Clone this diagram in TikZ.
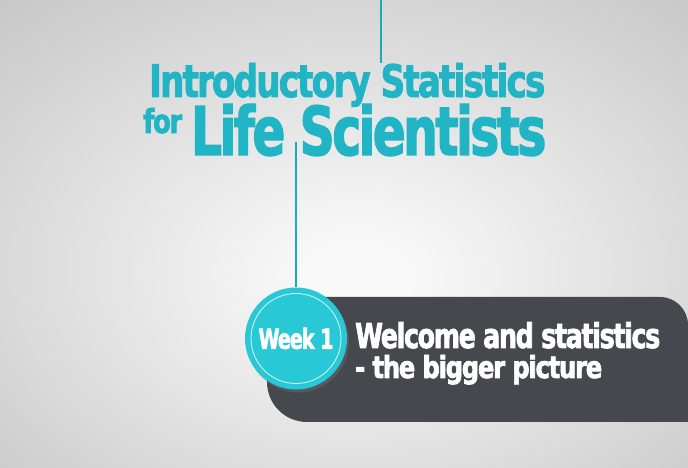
\documentclass[tikz,border=0pt]{standalone}
\usepackage{graphicx}
\usepackage{fontspec}
\newfontfamily\headfont{DejaVu Sans}[FakeStretch=0.8, FakeBold=2.2, LetterSpace=-4]
\usetikzlibrary{shadows}

\definecolor{bgcentre}{RGB}{248,248,248}
\definecolor{bgedge}{RGB}{196,196,196}
\definecolor{bgcorner}{RGB}{184,184,184}
\definecolor{titleteal}{RGB}{33,180,196}
\definecolor{stemteal}{RGB}{30,168,184}
\definecolor{discteal}{RGB}{40,200,215}
\definecolor{panelgray}{RGB}{69,73,78}

\pgfdeclareradialshading{backdrop}{\pgfpoint{1bp}{-5bp}}{%
  color(0bp)=(bgcentre); color(4bp)=(bgcentre);
  color(40bp)=(bgedge); color(75bp)=(bgcorner)}

\newcommand{\fitline}[3]{\resizebox{#1}{#2}{\headfont\bfseries #3}}

\begin{document}
\begin{tikzpicture}[x=1pt,y=1pt,
    titletext/.style={text=titleteal, inner sep=0pt},
    paneltext/.style={text=white, inner sep=0pt},
    stem/.style={draw=stemteal, line width=2pt},
    disc/.style={circle, fill=discteal, minimum size=102pt, inner sep=0pt,
      text=white, drop shadow={opacity=0.3, shadow xshift=2pt, shadow yshift=-3pt}},
    ring/.style={draw=white!85!discteal, line width=0.8pt}]
  \useasboundingbox (0,0) rectangle (688,468);
  \shade[shading=backdrop] (0,0) rectangle (688,468);

  % title
  \node[titletext, anchor=base west] (intro) at (149,371) {\fitline{396pt}{34pt}{Introductory Statistics}};
  \node[titletext, anchor=base west] (for) at (143,335) {\fitline{39pt}{25pt}{for}};
  \node[titletext, anchor=base west] (life) at (191,313) {\fitline{355pt}{51pt}{Life Scientists}};

  % dark panel
  \fill[panelgray] (307,46) -- (688,46) -- (688,143) arc[start angle=0, end angle=90, radius=28]
    -- (307,171) arc[start angle=90, end angle=180, radius=40]
    -- (267,86) arc[start angle=180, end angle=270, radius=40] -- cycle;

  \node[paneltext, anchor=base west] (welcome) at (355,120) {\fitline{305pt}{26pt}{Welcome and statistics}};
  \node[paneltext, anchor=base west] (bigger) at (355,90) {\fitline{247pt}{23pt}{- the bigger picture}};

  % week badge
  \node[disc] (week) at (296,129.5) {\fitline{75pt}{21pt}{Week 1}};
  \draw[ring] (week.center) circle[radius=45];

  % stems
  \coordinate (topedge) at (381,468);
  \coordinate (lifefoot) at (296,326);
  \draw[stem] (topedge) -- (topedge |- intro.north);
  \draw[stem] (lifefoot) -- (week.north);
\end{tikzpicture}
\end{document}
